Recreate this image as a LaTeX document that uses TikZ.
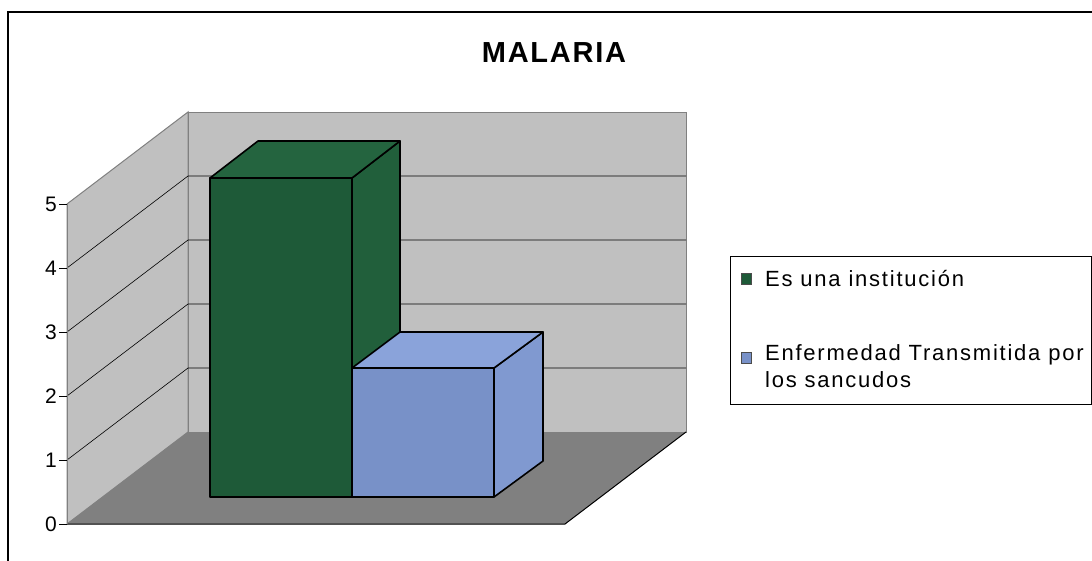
\documentclass[tikz,border=0pt]{standalone}
\usepackage{fontspec}
\setmainfont{Liberation Sans}
\newfontfamily\titlefont[LetterSpace=6]{Liberation Sans}
\newfontfamily\legendfont[LetterSpace=8]{Liberation Sans}
\usepackage{tikz}
\usetikzlibrary{positioning}

\definecolor{wallgray}{RGB}{192,192,192}
\definecolor{edgegray}{RGB}{128,128,128}
\definecolor{floorgray}{RGB}{128,128,128}
\definecolor{greenfront}{RGB}{30,90,56}
\definecolor{greentop}{RGB}{36,100,63}
\definecolor{greenside}{RGB}{33,95,59}
\definecolor{bluefront}{RGB}{120,145,200}
\definecolor{bluetop}{RGB}{138,163,218}
\definecolor{blueside}{RGB}{128,153,208}

\begin{document}
\begin{tikzpicture}[x=1pt,y=1pt,yscale=-1,xscale=1,
    wall/.style={fill=wallgray,draw=edgegray,line width=1},
    gridline/.style={draw=black,line width=0.6},
    baredge/.style={draw=black,line width=1.6,line join=round},
    ticklabel/.style={anchor=east,inner sep=0pt,font=\fontsize{21}{24}\selectfont},
    legendtext/.style={anchor=base west,inner sep=0pt,font=\legendfont\fontsize{22}{26}\selectfont}]
    \useasboundingbox (0,0) rectangle (1092,560);
    \fill[white] (0,0) rectangle (1092,560);

    % chart frame
    \draw[line width=2] (8,600) -- (8,12) -- (1120,12);

    % title
    \node[inner sep=0pt,font=\titlefont\bfseries\fontsize{29}{32}\selectfont] (title) at (554,53) {MALARIA};

    % left wall
    \draw[wall] (67,204) -- (188,112) -- (188,432) -- (67,524) -- cycle;
    % back wall
    \draw[wall] (188,112) rectangle (686,432);
    % floor
    \fill[floorgray] (67,524) -- (188,432) -- (686,432) -- (565,524) -- cycle;
    \draw[line width=1] (67,524) -- (565,524) -- (686,432);

    % grid lines
    \foreach \k in {1,...,4} {
        \draw[gridline] (67,{524-64*\k}) -- (188,{432-64*\k}) -- (686,{432-64*\k});
    }

    % value axis
    \draw[draw=edgegray,line width=1] (67,204) -- (67,524);
    \foreach \k in {0,...,5} {
        \draw[line width=0.6] (59,{524-64*\k}) -- (67,{524-64*\k});
        \node[ticklabel] (tick\k) at (57,{524-64*\k}) {\k};
    }

    % bar: Es una institucion
    \draw[baredge,fill=greenside] (352,178) -- (400,141) -- (400,461) -- (352,497) -- cycle;
    \draw[baredge,fill=greentop] (210,178) -- (258,141) -- (400,141) -- (352,178) -- cycle;
    \draw[baredge,fill=greenfront] (210,178) rectangle (352,497);

    % bar: Enfermedad Transmitida por los sancudos
    \draw[baredge,fill=blueside] (494,368) -- (543,332) -- (543,461) -- (494,497) -- cycle;
    \draw[baredge,fill=bluetop] (352,368) -- (400,332) -- (543,332) -- (494,368) -- cycle;
    \draw[baredge,fill=bluefront] (352,368) rectangle (494,497);

    % legend
    \draw[line width=1] (730,256) rectangle (1091,404);
    \draw[draw=black!70,fill=greenfront] (741,273) rectangle (751,284);
    \node[legendtext] (leg1) at (765,286) {Es una institución};
    \draw[draw=black!70,fill=bluefront] (741,352) rectangle (751,363);
    \node[legendtext] (leg2) at (765,360) {Enfermedad Transmitida por};
    \node[legendtext] (leg3) at (765,387) {los sancudos};
\end{tikzpicture}
\end{document}
